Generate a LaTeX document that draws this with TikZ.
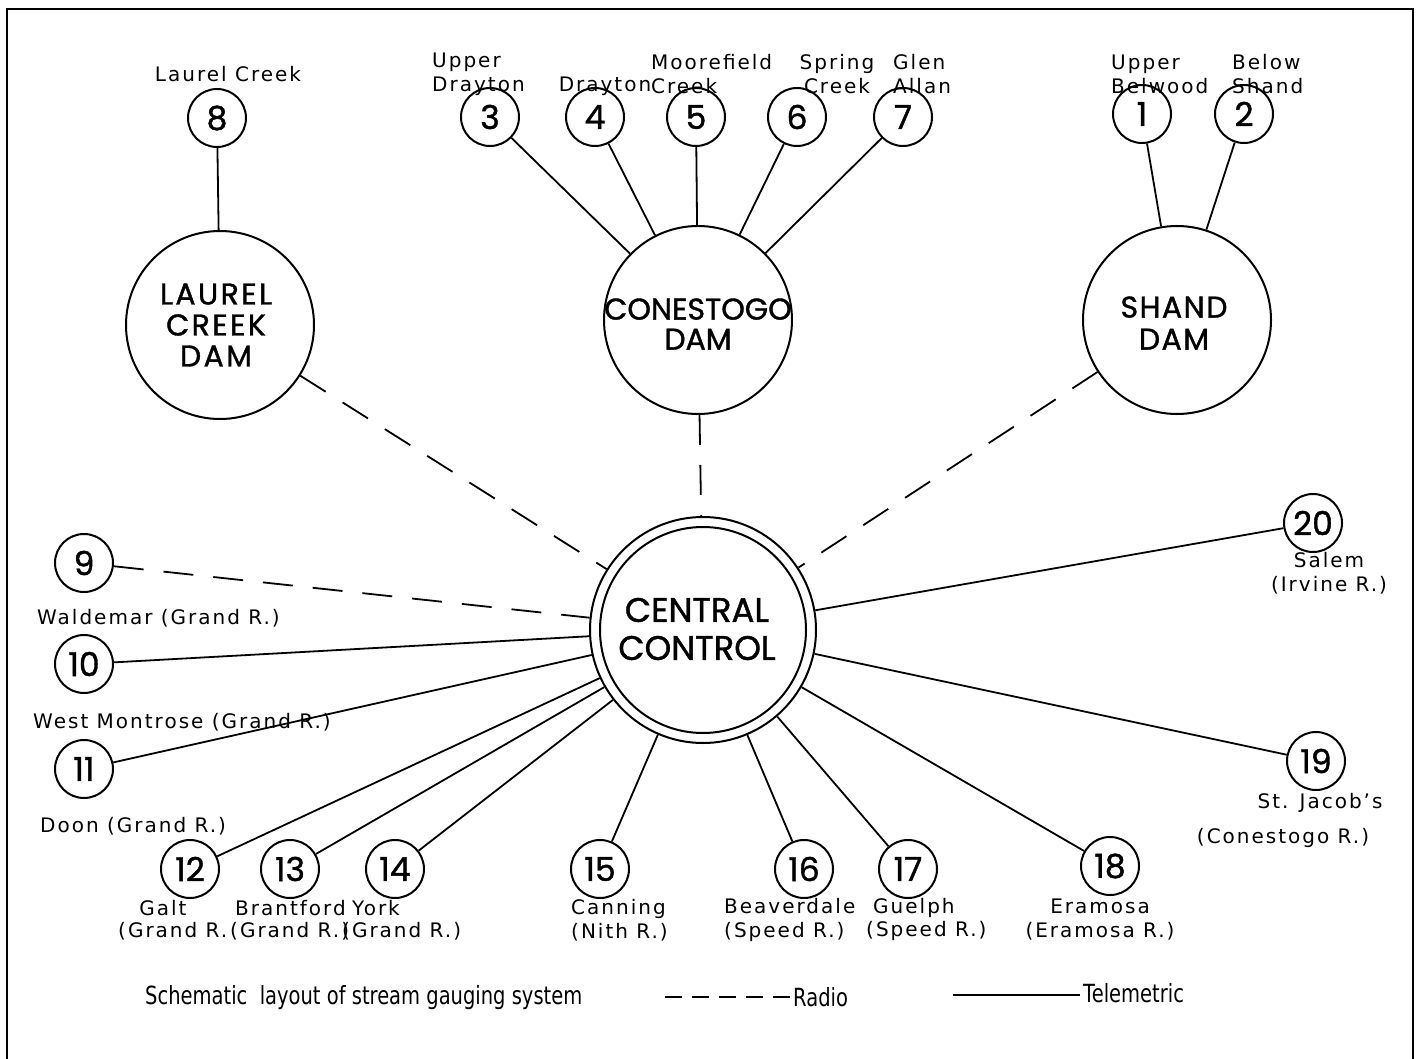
\documentclass[tikz,border=0pt]{standalone}
\usepackage{fontspec}
\setmainfont{DejaVu Sans}[LetterSpace=10]
\newfontfamily\geo{Poppins}[FakeBold=1.2]
\newfontfamily\geols{Poppins}[LetterSpace=8,FakeBold=1.2]
\newfontfamily\geolss{Poppins}[LetterSpace=5,FakeBold=1.2]
\newfontfamily\cond{DejaVu Sans}[FakeStretch=0.78]
\tikzset{
  st/.style={circle,draw,line width=2,minimum size=58,inner sep=0,font=\geo\fontsize{33}{33}\selectfont},
  dam/.style={circle,draw,line width=2,minimum size=188,inner sep=0},
  damtxt/.style={align=center,inner sep=0,font=\geo\fontsize{30}{30}\selectfont},
  lbl/.style={inner sep=0,font=\fontsize{20}{24}\selectfont},
  leg/.style={inner sep=0,anchor=west,font=\cond\fontsize{25}{25}\selectfont},
  tel/.style={line width=1.8},
  rad/.style={line width=1.8,dash pattern=on 30pt off 20pt},
}
\begin{document}
\begin{tikzpicture}[x=1pt,y=-1pt]
\useasboundingbox (0,0) rectangle (1421,1059);
\draw[line width=2.5] (7,1059) -- (7,9) -- (1413,9) -- (1413,1059);

% dams
\node[dam] (ld) at (220,325) {};
\node[damtxt,font=\geols\fontsize{30}{31}\selectfont] at (216,325) {LAUREL\\CREEK\\DAM};
\node[dam] (cd) at (698,320) {};
\node[damtxt] at (698,324) {CONESTOGO\\DAM};
\node[dam] (sd) at (1177,320) {};
\node[damtxt,font=\geolss\fontsize{30}{32}\selectfont] at (1174,323) {SHAND\\DAM};

% central control
\node[circle,draw,line width=2,minimum size=226,inner sep=0] (cc) at (703,630) {};
\draw[line width=2] (cc.center) circle (103);
\node[damtxt,font=\geo\fontsize{34}{38}\selectfont] at (697,629) {CENTRAL\\CONTROL};

% stations
\node[st] (s8) at (217,118) {8};
\node[st] (s3) at (490,117) {3};
\node[st] (s4) at (595,117) {4};
\node[st] (s5) at (696,117) {5};
\node[st] (s6) at (797,117) {6};
\node[st] (s7) at (903,117) {7};
\node[st] (s1) at (1142,114) {1};
\node[st] (s2) at (1244,114) {2};
\node[st] (s9) at (84,563) {9};
\node[st] (s10) at (84,664) {10};
\node[st] (s11) at (84,769) {11};
\node[st] (s12) at (190,869) {12};
\node[st] (s13) at (290,869) {13};
\node[st] (s14) at (395,869) {14};
\node[st] (s15) at (600,869) {15};
\node[st] (s16) at (804,869) {16};
\node[st] (s17) at (908,869) {17};
\node[st] (s18) at (1110,866) {18};
\node[st] (s19) at (1316,761) {19};
\node[st] (s20) at (1313,523) {20};

% telemetric links
\draw[tel] (s8) -- (ld);
\foreach \s in {s3,s4,s5,s6,s7} \draw[tel] (\s) -- (cd);
\foreach \s in {s1,s2} \draw[tel] (\s) -- (sd);
\foreach \s in {s10,s11,s12,s13,s14,s15,s16,s17,s18,s19,s20} \draw[tel] (\s) -- (cc);

% radio links
\draw[rad] (ld) -- (cc);
\draw[rad] (cd) -- (cc);
\draw[rad] (sd) -- (cc);
\draw[rad] (s9) -- (cc);

% labels
\node[lbl] at (228,74) {Laurel Creek};
\node[lbl,anchor=west,align=left] at (432,74) {Upper\\Drayton};
\node[lbl] at (605,86) {Drayton};
\node[lbl,anchor=west,align=left] at (651,74) {Moorefield\\Creek};
\node[lbl,align=center] at (837,74) {Spring\\Creek};
\node[lbl,anchor=west,align=left] at (893,74) {Glen\\Allan};
\node[lbl,anchor=west,align=left] at (1111,74) {Upper\\Belwood};
\node[lbl,anchor=west,align=left] at (1232,74) {Below\\Shand};

\node[lbl,anchor=west] at (37,618) {Waldemar (Grand R.)};
\node[lbl,anchor=west] at (33,722) {West Montrose (Grand R.)};
\node[lbl,anchor=west] at (40,826) {Doon (Grand R.)};

\node[lbl] at (163,908) {Galt};
\node[lbl,anchor=west] at (118,931) {(Grand R.};
\node[lbl,anchor=west] at (235,908) {Brantford};
\node[lbl,anchor=west] at (230,931) {(Grand R.)};
\node[lbl,anchor=west] at (352,908) {York};
\node[lbl,anchor=west] at (342,931) {(Grand R.)};
\node[lbl,anchor=west,align=left] at (571,920) {Canning\\(Nith R.)};
\node[lbl,anchor=west,align=left] at (724,920) {Beaverdale\\(Speed R.)};
\node[lbl,anchor=west] at (873,908) {Guelph};
\node[lbl,anchor=west] at (866,931) {(Speed R.)};
\node[lbl,align=center] at (1100,920) {Eramosa\\(Eramosa R.)};
\node[lbl,align=center] at (1329,573) {Salem\\(Irvine R.)};
\node[lbl] at (1320,803) {St. Jacob's};
\node[lbl] at (1283,838) {(Conestogo R.)};

% legend
\node[leg] (lg) at (145,998) {Schematic\ \ layout of stream gauging system};
\coordinate (ra) at (665,997);
\coordinate (rb) at (790,997);
\draw[line width=2,dash pattern=on 17pt off 10pt] (ra) -- (rb);
\node[leg] at (793,997) {Radio};
\coordinate (ta) at (953,995);
\coordinate (tb) at (1080,995);
\draw[line width=2] (ta) -- (tb);
\node[leg] at (1083,993) {Telemetric};
\end{tikzpicture}
\end{document}
